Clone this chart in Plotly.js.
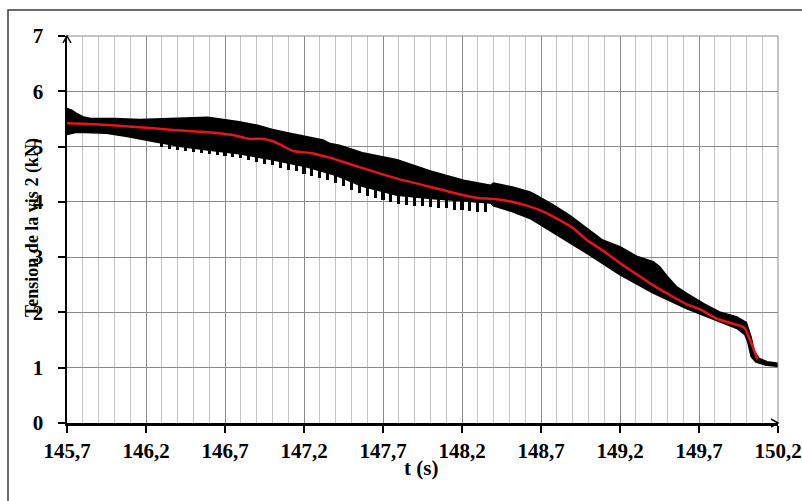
<!DOCTYPE html>
<html>
<head>
<meta charset="utf-8">
<script src="https://cdn.plot.ly/plotly-3.0.1.min.js"></script>
<style>
html,body{margin:0;padding:0;background:#fff;}
#chart{width:802px;height:501px;}
</style>
</head>
<body>
<div id="chart"></div>
<script>
// ---- Data ----
// Mean (red) curve
var meanT = [145.70,145.90,146.16,146.37,146.59,146.75,146.85,146.93,147.00,147.06,147.13,147.25,147.36,147.43,147.57,147.79,148.00,148.21,148.30,148.40,148.50,148.60,148.70,148.78,148.90,148.99,149.10,149.20,149.30,149.41,149.50,149.62,149.71,149.81,149.92,149.96,149.99,150.02,150.04,150.07];
var meanV = [5.42,5.40,5.35,5.30,5.26,5.21,5.14,5.14,5.10,5.02,4.92,4.88,4.80,4.74,4.61,4.42,4.27,4.12,4.07,4.05,4.01,3.94,3.84,3.73,3.53,3.31,3.10,2.89,2.70,2.49,2.34,2.15,2.05,1.89,1.79,1.76,1.71,1.52,1.38,1.15];

// Upper envelope of the oscillating signal (black band)
var upperT = [145.70,145.73,145.76,145.80,145.85,146.00,146.16,146.37,146.50,146.59,146.69,146.79,146.90,147.00,147.11,147.22,147.32,147.36,147.43,147.57,147.79,148.00,148.21,148.38,148.40,148.52,148.63,148.67,148.78,148.88,148.99,149.09,149.20,149.31,149.41,149.45,149.50,149.56,149.62,149.73,149.83,149.94,150.00,150.03,150.05,150.08,150.13,150.20];
var upperV = [5.69,5.66,5.60,5.54,5.51,5.51,5.49,5.51,5.53,5.53,5.49,5.45,5.39,5.31,5.24,5.18,5.12,5.06,5.02,4.89,4.76,4.56,4.39,4.30,4.34,4.27,4.18,4.12,3.94,3.76,3.52,3.31,3.19,3.01,2.92,2.83,2.65,2.46,2.35,2.16,2.01,1.92,1.82,1.55,1.30,1.17,1.11,1.08];

// Lower envelope (solid part) of the black band
var lowerT = [145.70,145.76,145.86,145.95,146.08,146.20,146.29,146.42,146.59,146.79,147.00,147.22,147.40,147.57,147.79,148.00,148.21,148.38,148.40,148.52,148.63,148.78,148.99,149.20,149.41,149.62,149.83,149.94,149.99,150.01,150.03,150.06,150.12,150.20];
var lowerV = [5.22,5.26,5.25,5.24,5.18,5.12,5.07,5.00,4.94,4.87,4.76,4.63,4.48,4.28,4.12,4.06,4.01,3.98,3.93,3.82,3.70,3.43,3.07,2.68,2.35,2.07,1.83,1.71,1.60,1.45,1.20,1.10,1.05,1.02];

// Downward spikes (teeth) below the band: time, root value, tip value
var toothT = [146.30,146.35,146.40,146.45,146.50,146.55,146.60,146.65,146.70,146.75,146.80,146.85,146.90,146.95,147.00,147.05,147.10,147.15,147.20,147.25,147.30,147.35,147.40,147.45,147.50,147.55,147.60,147.65,147.70,147.75,147.80,147.85,147.90,147.95,148.00,148.05,148.10,148.15,148.20,148.25,148.30,148.35];
var toothRoot = [5.10,5.07,5.04,5.03,5.02,5.00,4.99,4.97,4.96,4.94,4.92,4.90,4.87,4.84,4.81,4.78,4.75,4.72,4.69,4.65,4.61,4.57,4.53,4.47,4.41,4.35,4.30,4.26,4.23,4.19,4.17,4.15,4.14,4.12,4.11,4.10,4.08,4.07,4.06,4.05,4.04,4.03];
var toothTip = [5.00,4.96,4.93,4.92,4.90,4.89,4.87,4.85,4.83,4.81,4.79,4.76,4.73,4.69,4.66,4.62,4.58,4.55,4.51,4.47,4.43,4.39,4.35,4.29,4.22,4.16,4.11,4.07,4.03,3.99,3.97,3.95,3.93,3.92,3.90,3.89,3.88,3.86,3.85,3.84,3.82,3.81];

// Axis ticks
var xTickVals = [145.7,146.2,146.7,147.2,147.7,148.2,148.7,149.2,149.7,150.2];
var xTickText = ['145,7','146,2','146,7','147,2','147,7','148,2','148,7','149,2','149,7','150,2'];
var yTickVals = [0,1,2,3,4,5,6,7];

var xTitle = 't (s)';
var yTitle = 'Tension de la vis 2 (kN)';

// ---- Build traces ----
var bandX = upperT.concat(lowerT.slice().reverse());
var bandY = upperV.concat(lowerV.slice().reverse());

var band = {
  x: bandX, y: bandY, type: 'scatter', mode: 'lines',
  fill: 'toself', fillcolor: '#000000',
  line: {color: '#000000', width: 1.5},
  hoverinfo: 'skip', showlegend: false
};

var teeth = {
  x: toothT,
  y: toothRoot.map(function(r, i){ return r - toothTip[i]; }),
  base: toothTip,
  type: 'bar', width: 0.02,
  marker: {color: '#000000', line: {width: 0}},
  hoverinfo: 'skip', showlegend: false
};

var mean = {
  x: meanT, y: meanV, type: 'scatter', mode: 'lines',
  line: {color: '#e8141c', width: 2.5, shape: 'spline', smoothing: 0.6},
  showlegend: false
};

var fontFam = 'Liberation Serif, Times New Roman, serif';
var gridMajor = '#8a8a8a';
var gridMinor = '#c4c4c4';

var W = 711, H = 387; // plot area size in px
function px(x){ return (x - 67) / W; }
function py(y){ return (423 - y) / H; }

var layout = {
  width: 802, height: 501,
  margin: {l: 67, r: 24, t: 36, b: 78, pad: 0},
  paper_bgcolor: '#ffffff', plot_bgcolor: '#ffffff',
  separators: ', ',
  showlegend: false,
  bargap: 0,
  xaxis: {
    range: [145.7, 150.2], fixedrange: true,
    tickmode: 'array', tickvals: xTickVals, ticktext: xTickText,
    ticks: 'outside', ticklen: 7, tickwidth: 2, tickcolor: '#000',
    showline: true, linecolor: '#000', linewidth: 2.5,
    showgrid: true, gridcolor: gridMajor, gridwidth: 1,
    minor: {tickmode: 'linear', tick0: 145.7, dtick: 0.1, showgrid: true, gridcolor: gridMinor, gridwidth: 1, ticks: ''},
    zeroline: false,
    tickfont: {family: fontFam, size: 21, color: '#000', weight: 'bold'},
    ticklabelstandoff: 0
  },
  yaxis: {
    range: [0, 7], fixedrange: true,
    tickmode: 'array', tickvals: yTickVals,
    ticks: 'outside', ticklen: 7, tickwidth: 2, tickcolor: '#000',
    showline: true, linecolor: '#000', linewidth: 2.5,
    showgrid: true, gridcolor: gridMajor, gridwidth: 1,
    zeroline: false,
    tickfont: {family: fontFam, size: 21, color: '#000', weight: 'bold'},
    ticklabelstandoff: 10
  },
  annotations: [
    {text: '<b>' + xTitle + '</b>', xref: 'paper', yref: 'paper', x: px(421), y: py(468),
     xanchor: 'center', yanchor: 'middle', showarrow: false,
     font: {family: fontFam, size: 21, color: '#000'}},
    {text: '<b>' + yTitle + '</b>', xref: 'paper', yref: 'paper', x: px(32), y: py(228),
     xanchor: 'center', yanchor: 'middle', showarrow: false, textangle: -90,
     font: {family: fontFam, size: 18, color: '#000'}}
  ],
  shapes: [
    // outer frame
    {type: 'rect', xref: 'paper', yref: 'paper', x0: px(8), y0: py(530), x1: px(830), y1: py(10),
     line: {color: '#3a3a3a', width: 1.5}, fillcolor: 'rgba(0,0,0,0)', layer: 'below'},
    // top and right border of plot area (gray)
    {type: 'line', xref: 'paper', yref: 'paper', x0: 0, x1: 1, y0: 1, y1: 1, line: {color: gridMajor, width: 1}},
    {type: 'line', xref: 'paper', yref: 'paper', x0: 1, x1: 1, y0: 0, y1: 1, line: {color: gridMajor, width: 1}},
    // arrow head on y axis
    {type: 'path', xref: 'paper', yref: 'paper',
     path: 'M ' + px(63) + ',' + py(43) + ' L ' + px(67) + ',' + py(36) + ' L ' + px(71) + ',' + py(43),
     line: {color: '#000', width: 1.5}},
    // arrow head on x axis
    {type: 'path', xref: 'paper', yref: 'paper',
     path: 'M ' + px(771) + ',' + py(419) + ' L ' + px(778) + ',' + py(423) + ' L ' + px(771) + ',' + py(427),
     line: {color: '#000', width: 1.5}}
  ]
};

Plotly.newPlot('chart', [band, teeth, mean], layout, {staticPlot: true, displayModeBar: false});
</script>
</body>
</html>
